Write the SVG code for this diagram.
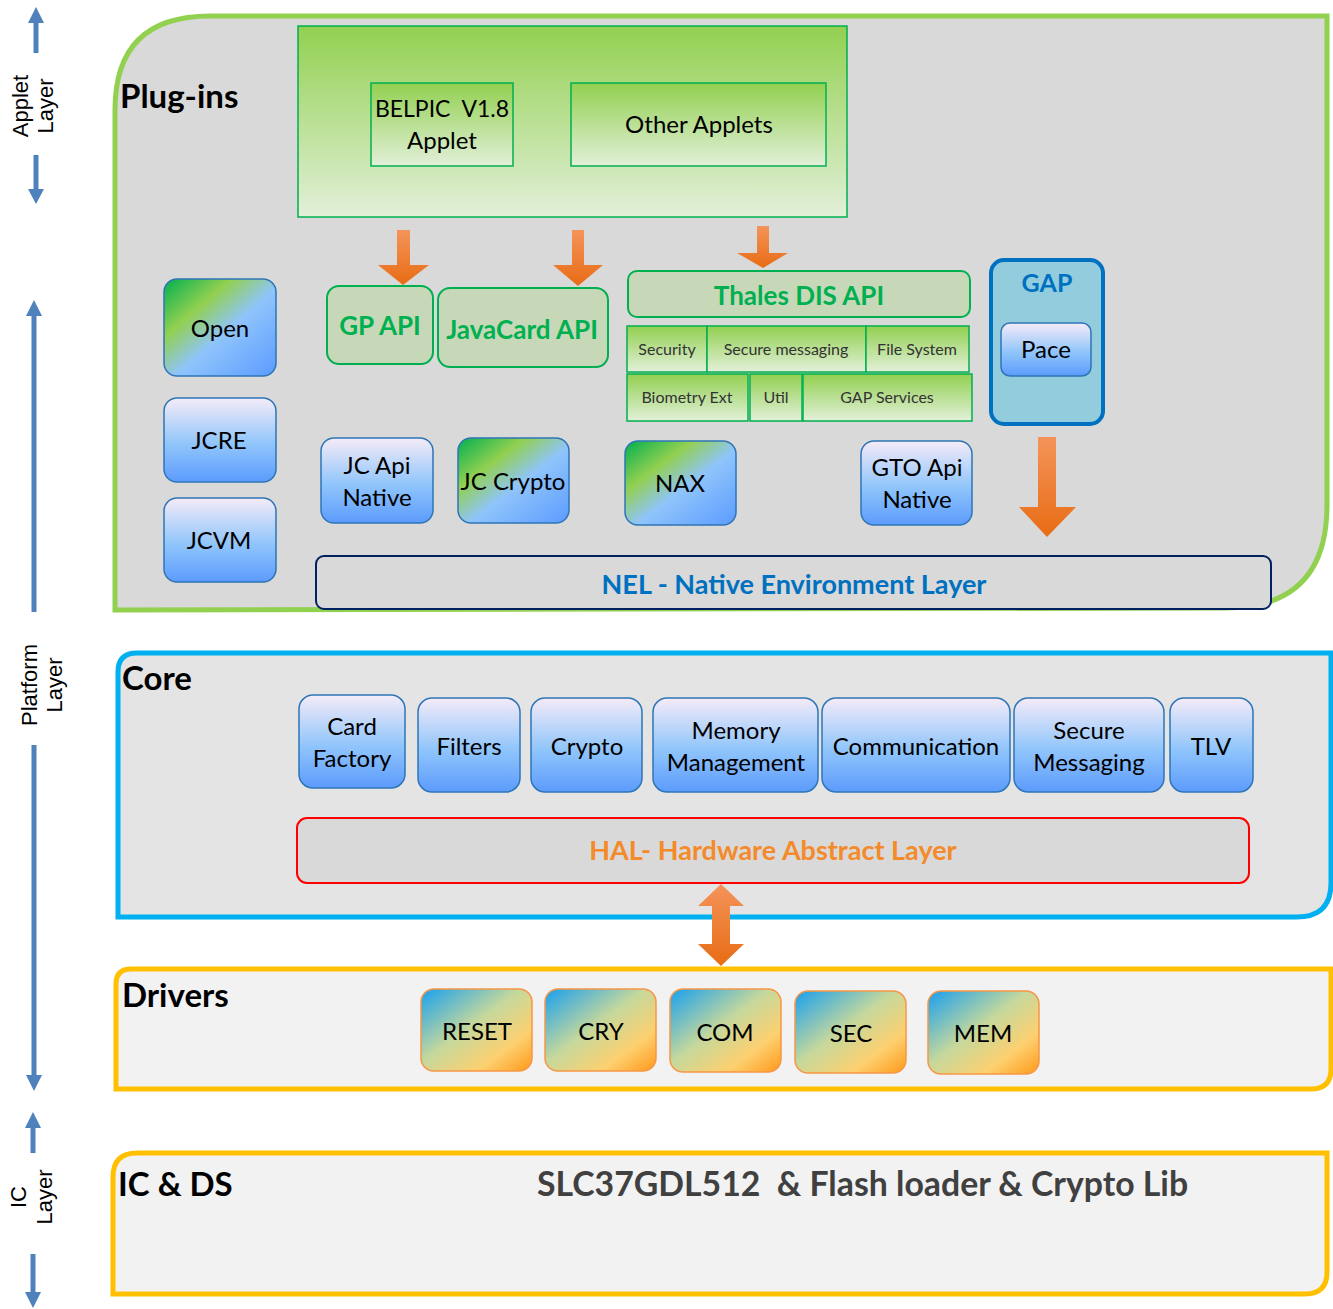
<svg xmlns="http://www.w3.org/2000/svg" width="1333" height="1309" viewBox="0 0 1333 1309">
<style>
text{font-family:Lato,"Noto Sans","Liberation Sans",sans-serif;fill:#000}
.ax{font-family:"Liberation Sans",Arial,sans-serif;font-size:22px}
.h{font-weight:bold;font-size:33px}
.n{font-size:24px;text-anchor:middle}
.g{font-weight:bold;font-size:26px;fill:#00b050;text-anchor:middle}
.s{font-size:16px;fill:#333;text-anchor:middle}
.bx{stroke:#2e75b6;stroke-width:1.5}
.sub{fill:url(#gGreen);stroke:#00b050;stroke-width:1.5}
.drv{fill:url(#gDrv);stroke:#f79646;stroke-width:1.5}
.axl{stroke:#4f81bd;stroke-width:5}
.axh{fill:#4f81bd}
.oa{fill:url(#gOr)}
</style>
<defs>
<linearGradient id="gGreen" x1="0" y1="0" x2="0" y2="1"><stop offset="0" stop-color="#92d050"/><stop offset="1" stop-color="#e2f0d9"/></linearGradient>
<linearGradient id="gBlue" x1="0" y1="0" x2="0" y2="1"><stop offset="0" stop-color="#f5ebf8"/><stop offset="0.55" stop-color="#90c5fb"/><stop offset="1" stop-color="#5c9bfd"/></linearGradient>
<linearGradient id="gDiag" x1="0" y1="0" x2="1" y2="1"><stop offset="0" stop-color="#00b050"/><stop offset="0.3" stop-color="#92d050"/><stop offset="0.55" stop-color="#8fc4fb"/><stop offset="1" stop-color="#5b9bff"/></linearGradient>
<linearGradient id="gDrv" x1="0" y1="0" x2="1" y2="1"><stop offset="0" stop-color="#18a0f0"/><stop offset="0.45" stop-color="#c5d89c"/><stop offset="0.75" stop-color="#fdd070"/><stop offset="1" stop-color="#ff9818"/></linearGradient>
<linearGradient id="gOr" x1="0" y1="0" x2="0" y2="1"><stop offset="0" stop-color="#f4945a"/><stop offset="1" stop-color="#e86c14"/></linearGradient>
</defs>

<!-- Layer axis -->
<g id="axis">
<line class="axl" x1="36" y1="20" x2="36" y2="53"/><polygon class="axh" points="36,7 28,23 44,23"/>
<line class="axl" x1="36" y1="155" x2="36" y2="192"/><polygon class="axh" points="36,204 28,189 44,189"/>
<text class="ax" transform="translate(28,106) rotate(-90)" text-anchor="middle"><tspan x="0" y="0">Applet</tspan><tspan x="0" y="25">Layer</tspan></text>
<line class="axl" x1="34" y1="313" x2="34" y2="612"/><polygon class="axh" points="34,300 26,316 42,316"/>
<line class="axl" x1="34" y1="745" x2="34" y2="1078"/><polygon class="axh" points="34,1091 26,1075 42,1075"/>
<text class="ax" transform="translate(37,685) rotate(-90)" text-anchor="middle"><tspan x="0" y="0">Platform</tspan><tspan x="0" y="25">Layer</tspan></text>
<line class="axl" x1="33" y1="1124" x2="33" y2="1153"/><polygon class="axh" points="33,1112 25,1128 41,1128"/>
<line class="axl" x1="33" y1="1254" x2="33" y2="1296"/><polygon class="axh" points="33,1308 25,1292 41,1292"/>
<text class="ax" transform="translate(26,1197) rotate(-90)" text-anchor="middle"><tspan x="0" y="0">IC</tspan><tspan x="0" y="26">Layer</tspan></text>
</g>

<!-- Plug-ins panel -->
<g id="plugins">
<path d="M115,610 L115,110 Q115,16 210,16 L1327,16 L1327,505 Q1327,608 1225,608 Z" fill="#d9d9d9" stroke="#92d050" stroke-width="5"/>
<text class="h" x="120" y="108">Plug-ins</text>
</g>
<g id="applets">
<rect x="298" y="26" width="549" height="191" fill="url(#gGreen)" stroke="#00b050" stroke-width="1.5"/>
</g>
<g id="belpic">
<rect x="371" y="83" width="142" height="83" class="sub"/>
<text class="n" x="442" y="117" xml:space="preserve" style="white-space:pre;font-size:23px">BELPIC  V1.8</text><text class="n" x="442" y="149">Applet</text>
</g>
<g id="other-applets">
<rect x="571" y="83" width="255" height="83" class="sub"/>
<text class="n" x="699" y="133">Other Applets</text>
</g>
<g id="gp-api"><rect x="327" y="286" width="106" height="78" rx="12" fill="#c6d8b8" stroke="#00b050" stroke-width="2"/><text class="g" x="380" y="335">GP API</text></g>
<g id="javacard-api"><rect x="438" y="288" width="170" height="79" rx="12" fill="#c6d8b8" stroke="#00b050" stroke-width="2"/><text class="g" x="522" y="339">JavaCard API</text></g>
<g id="thales"><rect x="628" y="271" width="342" height="46" rx="9" fill="#c6d8b8" stroke="#00b050" stroke-width="2"/><text class="g" x="799" y="305">Thales DIS API</text></g>
<g id="security"><rect x="627" y="326" width="80" height="46" class="sub"/><text class="s" x="667" y="355">Security</text></g>
<g id="secure-messaging"><rect x="707" y="326" width="159" height="46" class="sub"/><text class="s" x="786" y="355">Secure messaging</text></g>
<g id="file-system"><rect x="866" y="326" width="103" height="46" class="sub"/><text class="s" x="917" y="355">File System</text></g>
<g id="biometry"><rect x="627" y="374" width="121" height="47" class="sub"/><text class="s" x="687" y="403">Biometry Ext</text></g>
<g id="util"><rect x="750" y="374" width="52" height="47" class="sub"/><text class="s" x="776" y="403">Util</text></g>
<g id="gap-services"><rect x="803" y="374" width="169" height="47" class="sub"/><text class="s" x="887" y="403">GAP Services</text></g>
<g id="gap"><rect x="991" y="260" width="112" height="164" rx="13" fill="#93cddd" stroke="#0070c0" stroke-width="4"/><text x="1047" y="292" text-anchor="middle" font-weight="bold" font-size="25" style="fill:#0070c0">GAP</text></g>
<g id="pace"><rect x="1001" y="323" width="90" height="53" rx="9" fill="url(#gBlue)" class="bx"/><text class="n" x="1046" y="358">Pace</text></g>
<g id="open"><rect x="164" y="279" width="112" height="97" rx="13" fill="url(#gDiag)" class="bx"/><text class="n" x="220" y="337">Open</text></g>
<g id="jcre"><rect x="164" y="398" width="112" height="84" rx="13" fill="url(#gBlue)" class="bx"/><text class="n" x="219" y="449">JCRE</text></g>
<g id="jcvm"><rect x="164" y="498" width="112" height="84" rx="13" fill="url(#gBlue)" class="bx"/><text class="n" x="219" y="549">JCVM</text></g>
<g id="jc-api-native"><rect x="321" y="438" width="112" height="85" rx="13" fill="url(#gBlue)" class="bx"/><text class="n" x="377" y="474">JC Api</text><text class="n" x="377" y="506">Native</text></g>
<g id="jc-crypto"><rect x="458" y="438" width="111" height="85" rx="13" fill="url(#gDiag)" class="bx"/><text class="n" x="513" y="490">JC Crypto</text></g>
<g id="nax"><rect x="625" y="441" width="111" height="84" rx="13" fill="url(#gDiag)" class="bx"/><text class="n" x="680" y="492">NAX</text></g>
<g id="gto-api-native"><rect x="861" y="441" width="111" height="84" rx="13" fill="url(#gBlue)" class="bx"/><text class="n" x="917" y="476">GTO Api</text><text class="n" x="917" y="508">Native</text></g>
<g id="nel"><rect x="316" y="556" width="955" height="53" rx="8" fill="#d9d9d9" stroke="#002060" stroke-width="2"/><text x="794" y="594" text-anchor="middle" font-weight="bold" font-size="27" style="fill:#0070c0">NEL - Native Environment Layer</text></g>

<!-- Core panel -->
<g id="core">
<path d="M118,917 L118,672 Q118,653 137,653 L1331,653 L1331,883 Q1331,917 1297,917 Z" fill="#e4e4e4" stroke="#00b0f0" stroke-width="5"/>
<text class="h" x="122" y="690">Core</text>
</g>
<g id="card-factory"><rect x="299" y="695" width="106" height="93" rx="14" fill="url(#gBlue)" class="bx"/><text class="n" x="352" y="735">Card</text><text class="n" x="352" y="767">Factory</text></g>
<g id="filters"><rect x="418" y="698" width="102" height="94" rx="14" fill="url(#gBlue)" class="bx"/><text class="n" x="469" y="755">Filters</text></g>
<g id="crypto"><rect x="531" y="698" width="111" height="94" rx="14" fill="url(#gBlue)" class="bx"/><text class="n" x="587" y="755">Crypto</text></g>
<g id="memory"><rect x="653" y="698" width="165" height="94" rx="14" fill="url(#gBlue)" class="bx"/><text class="n" x="736" y="739">Memory</text><text class="n" x="736" y="771">Management</text></g>
<g id="communication"><rect x="822" y="698" width="188" height="94" rx="14" fill="url(#gBlue)" class="bx"/><text class="n" x="916" y="755">Communication</text></g>
<g id="secure-messaging-core"><rect x="1014" y="698" width="150" height="94" rx="14" fill="url(#gBlue)" class="bx"/><text class="n" x="1089" y="739">Secure</text><text class="n" x="1089" y="771">Messaging</text></g>
<g id="tlv"><rect x="1170" y="698" width="83" height="94" rx="14" fill="url(#gBlue)" class="bx"/><text class="n" x="1211" y="755">TLV</text></g>
<g id="hal"><rect x="297" y="818" width="952" height="65" rx="10" fill="#d9d9d9" stroke="#ff0000" stroke-width="2"/><text x="773" y="860" text-anchor="middle" font-weight="bold" font-size="27" style="fill:#f58a2a">HAL- Hardware Abstract Layer</text></g>

<!-- Drivers -->
<g id="drivers">
<path d="M116,1089 L116,984 Q116,969 131,969 L1331,969 L1331,1069 Q1331,1089 1311,1089 Z" fill="#f2f2f2" stroke="#ffc000" stroke-width="5"/>
<text class="h" x="122" y="1007">Drivers</text>
</g>
<g id="reset"><rect x="421" y="989" width="111" height="82" rx="13" class="drv"/><text class="n" x="477" y="1040">RESET</text></g>
<g id="cry"><rect x="545" y="989" width="111" height="82" rx="13" class="drv"/><text class="n" x="601" y="1040">CRY</text></g>
<g id="com"><rect x="670" y="989" width="111" height="83" rx="13" class="drv"/><text class="n" x="725" y="1041">COM</text></g>
<g id="sec"><rect x="795" y="991" width="111" height="82" rx="13" class="drv"/><text class="n" x="851" y="1042">SEC</text></g>
<g id="mem"><rect x="928" y="991" width="111" height="83" rx="13" class="drv"/><text class="n" x="983" y="1042">MEM</text></g>

<!-- IC & DS -->
<g id="ic-ds">
<path d="M113,1294 L113,1177 Q113,1153 137,1153 L1327,1153 L1327,1272 Q1327,1294 1305,1294 Z" fill="#f2f2f2" stroke="#ffc000" stroke-width="5"/>
<text class="h" x="118" y="1196">IC &amp; DS</text>
<text class="h" x="537" y="1196" xml:space="preserve" style="fill:#404040;white-space:pre;font-size:33.8px">SLC37GDL512  &amp; Flash loader &amp; Crypto Lib</text>
</g>

<!-- Connectors -->
<g id="connectors">
<polygon class="oa" points="397,230 410,230 410,265 429,265 403,285 378,265 397,265"/>
<polygon class="oa" points="572,230 584,230 584,265 603,265 578,286 553,265 572,265"/>
<polygon class="oa" points="757,226 769,226 769,253 788,253 763,268 737,253 757,253"/>
<polygon class="oa" points="1038,437 1056,437 1056,507 1076,507 1047,537 1019,507 1038,507"/>
<polygon class="oa" points="721,884 744,906 730,906 730,944 744,944 721,966 698,944 712,944 712,906 698,906"/>
</g>
</svg>
